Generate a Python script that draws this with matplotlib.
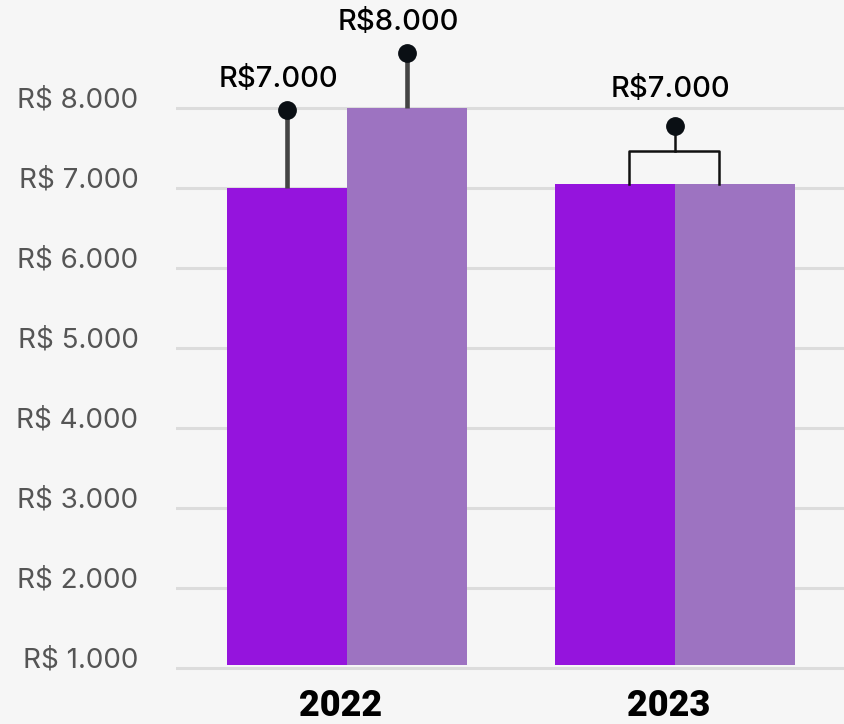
import matplotlib
matplotlib.use('Agg')
import matplotlib.pyplot as plt
from matplotlib.transforms import ScaledTranslation

# ---------- data ----------
anos = ['2022', '2023']
serie_a = [7000, 7050]          # roxo forte
serie_b = [8000, 7050]          # roxo claro
y_ticks = [1000, 2000, 3000, 4000, 5000, 6000, 7000, 8000]
y_tick_labels = ['R$ 1.000', 'R$ 2.000', 'R$ 3.000', 'R$ 4.000',
                 'R$ 5.000', 'R$ 6.000', 'R$ 7.000', 'R$ 8.000']

# lollipop annotations 2022 (one per bar)
pin_2022 = [7975, 8690]
pin_2022_labels = ['R$7.000', 'R$8.000']
# bracket annotation 2023 (both bars)
bracket_2023 = 7460
pin_2023 = 7775
pin_2023_label = 'R$7.000'

base = 1040
cor_a = '#9514dd'
cor_b = '#9d73c1'
bg = '#f6f6f6'

# ---------- figure ----------
fig = plt.figure(figsize=(8.45, 7.24), dpi=100, facecolor=bg)
ax = fig.add_axes([176 / 845, 0, 1 - 176 / 845, 1])
ax.set_facecolor(bg)

w = 0.366
x = [0, 1]
ax.bar([i - w / 2 for i in x], [v - base for v in serie_a], w, bottom=base,
       color=cor_a, zorder=3)
ax.bar([i + w / 2 for i in x], [v - base for v in serie_b], w, bottom=base,
       color=cor_b, zorder=3)

ax.set_xlim(-0.521, 1.518)
ax.set_ylim(300, 9350)

# gridlines
for t in y_ticks:
    ax.axhline(t, color='#dcdcdc', lw=2.2, zorder=1)

# y labels, a bit above the lines
ax.set_yticks(y_ticks)
ax.set_yticklabels(y_tick_labels, fontsize=20, color='#555555', family='Inter')
ax.tick_params(axis='y', length=0, pad=27)
for lab in ax.get_yticklabels():
    lab.set_transform(lab.get_transform() + ScaledTranslation(0, 11 / 100, fig.dpi_scale_trans))

ax.set_xticks([])
for s in ax.spines.values():
    s.set_visible(False)

# year labels
for i, ano in zip(x, anos):
    ax.text(i - 0.02, 520, ano, ha='center', va='center', fontsize=26,
            fontweight='black', family='Roboto', color='black')

# lollipops 2022
xs_2022 = [x[0] - 60 / 328, x[0] + 60 / 328]
tops_2022 = [serie_a[0], serie_b[0]]
for xi, top, pin, lab in zip(xs_2022, tops_2022, pin_2022, pin_2022_labels):
    ax.plot([xi, xi], [top, pin], color='#444444', lw=3.3, zorder=4,
            solid_capstyle='butt')
    ax.plot(xi, pin, 'o', ms=12.5, color='#0a0f14', zorder=5)
    ax.annotate(lab, (xi, pin), xytext=(-6, 22), textcoords='offset points',
                ha='center', va='center', fontsize=21, family='Inter',
                fontweight='medium', color='black')

# bracket 2023
xl = x[1] - 46 / 328
xr = x[1] + 44 / 328
ax.plot([xl, xl, xr, xr], [serie_a[1], bracket_2023, bracket_2023, serie_b[1]],
        color='#111111', lw=1.8, zorder=4)
ax.plot([x[1], x[1]], [bracket_2023, pin_2023], color='#111111', lw=1.8, zorder=4)
ax.plot(x[1], pin_2023, 'o', ms=12.5, color='#0a0f14', zorder=5)
ax.annotate(pin_2023_label, (x[1], pin_2023), xytext=(-3, 26),
            textcoords='offset points', ha='center', va='center', fontsize=21,
            family='Inter', fontweight='medium', color='black')

fig.savefig('out.png', dpi=100, facecolor=bg)
